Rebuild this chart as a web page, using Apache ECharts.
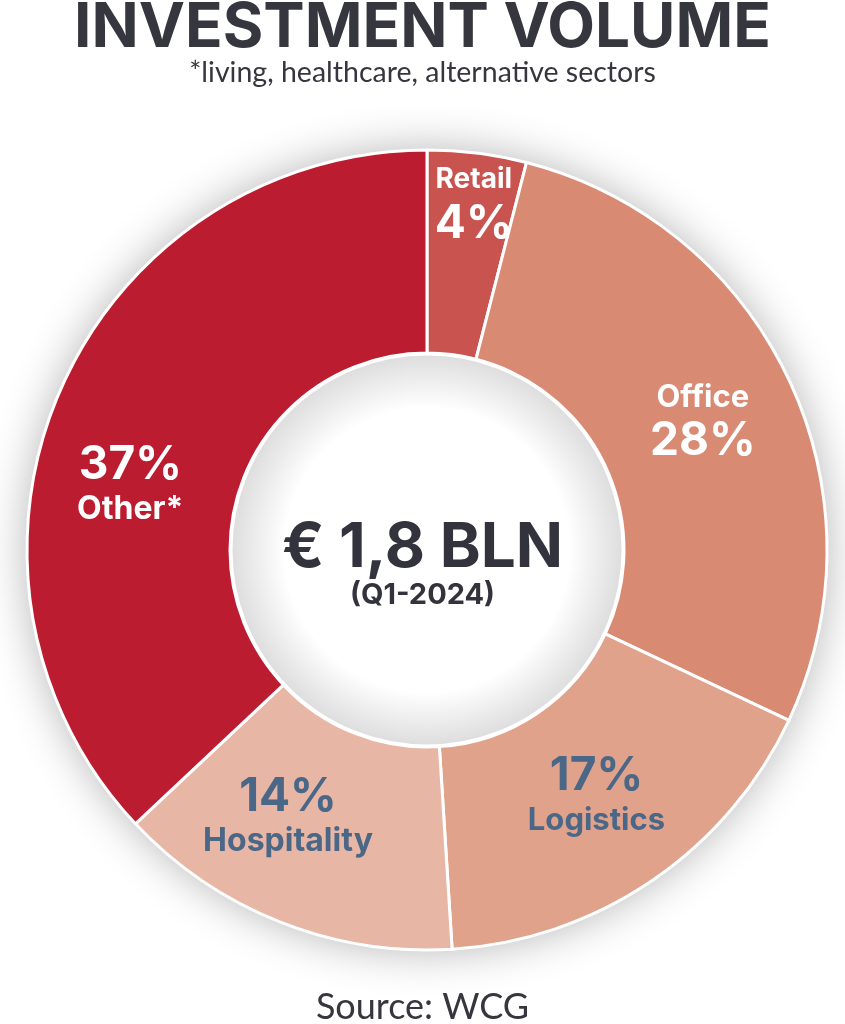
<!DOCTYPE html>
<html>
<head>
<meta charset="utf-8">
<script src="https://cdn.jsdelivr.net/npm/echarts@6/dist/echarts.min.js"></script>
<style>
html,body{margin:0;padding:0;background:#fff;}
#chart{width:845px;height:1024px;}
</style>
</head>
<body>
<div id="chart"></div>
<script>
// ---- data ----
const categories = ['Retail', 'Office', 'Logistics', 'Hospitality', 'Other*'];
const shares = [4, 28, 17, 14, 37];
const titleText = 'INVESTMENT VOLUME';
const subtitleText = '*living, healthcare, alternative sectors';
const centerValue = '€ 1,8 BLN';
const centerPeriod = '(Q1-2024)';
const sourceText = 'Source: WCG';

// ---- styles ----
const palette = ['#c9534f', '#d88a73', '#e0a28b', '#e7b6a4', '#bc1c2f'];
const labelColors = ['#ffffff', '#ffffff', '#4a6787', '#4a6787', '#ffffff'];
const nameFirst = [true, true, false, false, false];
const nameSizes = [28, 31, 31, 32, 32];
const labelShift = [[9, -47], [3, 0], [0, -3], [-28, -13], [-20, 55]];

const chart = echarts.init(document.getElementById('chart'), null, {renderer: 'canvas'});
const C = [427, 550];
const R_OUT = 400, R_IN = 197;
const BOLD = 'Inter';

const pieData = categories.map((n, i) => ({
  name: n,
  value: shares[i],
  itemStyle: {color: palette[i]},
  label: {
    color: labelColors[i],
    formatter: nameFirst[i] ? '{n|{b}}\n{p|{c}%}' : '{p|{c}%}\n{n|{b}}',
    rich: {
      n: {fontFamily: BOLD, fontWeight: 'bold', fontSize: nameSizes[i], color: labelColors[i], lineHeight: 40},
      p: {fontFamily: BOLD, fontWeight: 'bold', fontSize: 46, color: labelColors[i], lineHeight: 48}
    }
  }
}));

chart.setOption({
  backgroundColor: '#ffffff',
  animation: false,
  title: [
    {text: titleText, left: 'center', top: -8,
     textStyle: {fontFamily: BOLD, fontWeight: 'bold', fontSize: 62, color: '#36363e'}},
    {text: subtitleText, left: 'center', top: 53,
     textStyle: {fontFamily: 'Lato', fontWeight: 'normal', fontSize: 28.5, color: '#36363e'}},
    {text: centerValue, left: 'center', top: 512,
     textStyle: {fontFamily: BOLD, fontWeight: 'bold', fontSize: 62, color: '#33333d'}},
    {text: centerPeriod, left: 'center', top: 576,
     textStyle: {fontFamily: BOLD, fontWeight: 'bold', fontSize: 29, color: '#33333d'}},
    {text: sourceText, left: 'center', top: 984,
     textStyle: {fontFamily: 'Lato', fontWeight: 'normal', fontSize: 36, color: '#36363e'}}
  ],
  series: [
    {
      type: 'pie', silent: true, z: 1,
      center: C, radius: [0, R_OUT],
      label: {show: false}, labelLine: {show: false},
      itemStyle: {color: '#ffffff', shadowBlur: 45, shadowColor: 'rgba(0,0,0,0.3)'},
      data: [{value: 1, name: 'bg'}]
    },
    {
      type: 'pie', silent: true, z: 2,
      center: C, radius: [R_IN, R_OUT],
      startAngle: 90, clockwise: true,
      avoidLabelOverlap: false,
      itemStyle: {borderColor: '#ffffff', borderWidth: 3},
      label: {show: true, position: 'inside', align: 'center'},
      labelLine: {show: false},
      labelLayout: function (p) {
        const s = labelShift[p.dataIndex];
        return {dx: s[0], dy: s[1]};
      },
      data: pieData
    },
    {
      type: 'pie', silent: true, z: 3,
      center: C, radius: [0, R_IN - 1],
      label: {show: false}, labelLine: {show: false},
      itemStyle: {
        borderColor: '#ffffff', borderWidth: 3,
        color: {type: 'radial', x: 0.5, y: 0.5, r: 0.5,
          colorStops: [{offset: 0, color: '#ffffff'}, {offset: 0.72, color: '#ffffff'}, {offset: 1, color: '#dcdcdc'}]}
      },
      data: [{value: 1, name: 'hole'}]
    }
  ]
});
</script>
</body>
</html>
